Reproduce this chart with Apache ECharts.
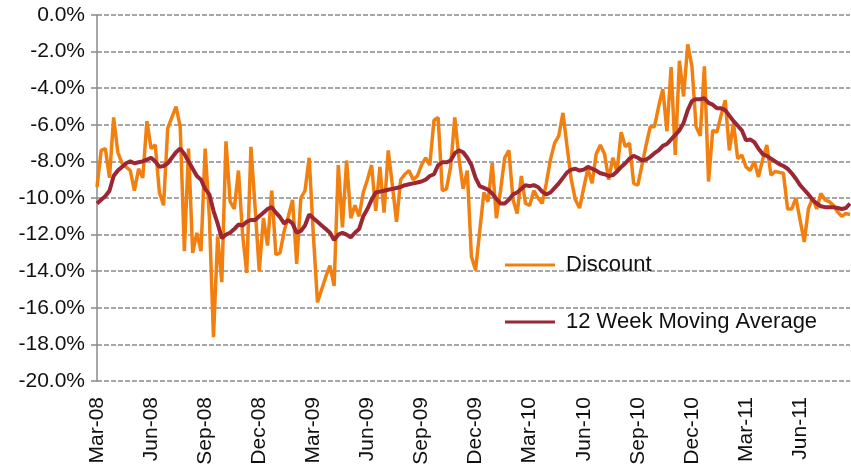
<!DOCTYPE html>
<html>
<head>
<meta charset="utf-8">
<script src="https://cdn.jsdelivr.net/npm/echarts@6/dist/echarts.min.js"></script>
<style>
html,body{margin:0;padding:0;background:#fff;}
#chart{width:851px;height:467px;}
</style>
</head>
<body>
<div id="chart"></div>
<script>
const tickLabels = ['Mar-08','Jun-08','Sep-08','Dec-08','Mar-09','Jun-09','Sep-09','Dec-09','Mar-10','Jun-10','Sep-10','Dec-10','Mar-11','Jun-11'];

const discount = [
-9.4,-7.4,-7.3,-8.9,-5.6,-7.5,-8.1,-8.3,-8.5,-9.6,
-8.4,-8.9,-5.8,-7.3,-7.1,-9.7,-10.4,-6.2,-5.6,-5.0,
-6.1,-12.9,-7.3,-13.0,-11.9,-12.9,-7.3,-11.0,-17.6,-12.1,
-14.6,-6.9,-10.2,-10.6,-8.5,-12.0,-14.1,-7.2,-10.5,-14.0,
-11.1,-12.6,-9.6,-13.1,-13.0,-11.8,-11.0,-10.1,-13.6,-10.0,
-9.6,-7.8,-12.0,-15.7,-15.0,-14.3,-13.7,-14.8,-8.2,-11.6,
-7.95,-11.1,-10.4,-11.0,-9.7,-9.0,-8.2,-10.7,-8.3,-10.8,
-7.4,-9.3,-11.3,-9.0,-8.7,-8.5,-9.0,-8.8,-8.2,-7.8,
-8.2,-5.75,-5.6,-9.6,-9.5,-8.3,-5.6,-7.8,-9.5,-8.5,
-13.2,-13.95,-11.8,-9.7,-10.2,-8.1,-11.1,-9.6,-7.8,-7.4,
-10.1,-10.85,-8.8,-10.3,-10.4,-9.6,-10.0,-10.3,-9.2,-7.9,
-7.0,-6.6,-5.35,-7.2,-9.0,-10.1,-10.55,-9.45,-8.4,-9.2,
-7.6,-7.1,-7.6,-9.0,-7.8,-8.55,-6.4,-7.2,-7.0,-9.2,
-9.3,-8.2,-7.1,-6.1,-6.1,-5.0,-4.05,-6.35,-2.85,-7.65,
-2.5,-4.45,-1.6,-2.8,-6.1,-6.6,-2.8,-9.1,-6.3,-6.4,
-5.5,-4.65,-7.4,-5.9,-7.85,-7.65,-8.3,-8.5,-8.0,-8.85,
-7.9,-7.1,-8.75,-8.55,-8.6,-8.65,-10.6,-10.6,-10.0,-11.2,
-12.4,-10.6,-10.0,-10.6,-9.75,-10.1,-10.2,-10.4,-10.75,-11.0,
-10.85,-10.9
];

const movingAverage = [
-10.3,-10.1,-9.9,-9.6,-8.8,-8.5,-8.3,-8.1,-8.0,-8.1,
-8.05,-8.0,-7.9,-7.8,-8.0,-8.3,-8.25,-8.1,-7.8,-7.5,
-7.3,-7.6,-8.0,-8.4,-8.8,-9.0,-9.5,-9.8,-10.7,-11.4,
-12.2,-12.0,-11.9,-11.7,-11.45,-11.5,-11.3,-11.2,-11.2,-11.0,
-10.8,-10.6,-10.5,-10.8,-11.05,-11.4,-11.2,-11.4,-11.9,-11.8,
-11.5,-10.9,-11.1,-11.3,-11.5,-11.7,-11.9,-12.3,-12.0,-11.9,
-12.0,-12.15,-11.9,-11.7,-11.0,-10.6,-10.1,-9.7,-9.65,-9.6,
-9.55,-9.5,-9.45,-9.4,-9.3,-9.25,-9.2,-9.15,-9.1,-9.0,
-8.8,-8.7,-8.2,-8.05,-8.05,-7.95,-7.55,-7.4,-7.5,-7.8,
-8.2,-8.9,-9.35,-9.45,-9.55,-9.75,-10.05,-10.3,-10.3,-10.1,
-9.8,-9.7,-9.5,-9.3,-9.35,-9.3,-9.4,-9.65,-9.8,-9.7,
-9.45,-9.2,-8.9,-8.6,-8.45,-8.4,-8.5,-8.45,-8.3,-8.4,
-8.5,-8.65,-8.7,-8.8,-8.75,-8.55,-8.3,-8.1,-7.85,-7.7,
-7.8,-7.95,-7.9,-7.75,-7.55,-7.4,-7.15,-7.05,-6.8,-6.55,
-6.3,-5.9,-5.2,-4.7,-4.6,-4.6,-4.55,-4.8,-4.9,-5.1,
-5.1,-5.2,-5.5,-5.8,-6.05,-6.3,-6.85,-6.8,-6.95,-7.3,
-7.6,-7.7,-7.85,-8.0,-8.15,-8.25,-8.4,-8.65,-8.95,-9.3,
-9.55,-9.8,-10.1,-10.3,-10.45,-10.5,-10.5,-10.5,-10.55,-10.6,
-10.55,-10.3
];

const weeks = discount.map((_, i) => 'W' + i);

const font = '"Liberation Sans", Arial, sans-serif';
const chart = echarts.init(document.getElementById('chart'), null, {renderer: 'canvas'});
chart.setOption({
  animation: false,
  backgroundColor: '#ffffff',
  grid: {left: 97, right: 1, top: 15, bottom: 86, containLabel: false, outerBoundsMode: 'none'},
  legend: [
    {data: ['Discount'], left: 505, top: 254, padding: 0, icon: 'rect', itemWidth: 50, itemHeight: 3,
     textStyle: {fontFamily: font, fontSize: 22, color: '#111', padding: [0,0,0,6]}},
    {data: ['12 Week Moving Average'], left: 505, top: 311, padding: 0, icon: 'rect', itemWidth: 50, itemHeight: 3,
     textStyle: {fontFamily: font, fontSize: 22, color: '#111', padding: [0,0,0,6]}}
  ],
  xAxis: {
    type: 'category', data: weeks, boundaryGap: false,
    axisLine: {show: false}, axisTick: {show: false},
    axisLabel: {
      interval: 12, rotate: 90, margin: 16, fontFamily: font, fontSize: 21, color: '#111',
      formatter: (v, idx) => (idx % 13 === 0 ? (tickLabels[idx / 13] || '') : '')
    },
    splitLine: {show: false}
  },
  yAxis: {
    type: 'value', min: -20, max: 0, interval: 2,
    axisLine: {show: true, lineStyle: {color: '#8a8a8a', width: 1.5}},
    axisTick: {show: true, length: 6, lineStyle: {color: '#8a8a8a', width: 1.5}},
    axisLabel: {fontFamily: font, fontSize: 21, color: '#111', margin: 12,
      formatter: v => (v === 0 ? '0.0%' : v.toFixed(1) + '%')},
    splitLine: {show: true, lineStyle: {color: '#8a8a8a', width: 1.5, type: [5, 2]}}
  },
  series: [
    {name: 'Discount', type: 'line', data: discount, showSymbol: false, symbol: 'none',
     lineStyle: {color: '#F28010', width: 3.5}, itemStyle: {color: '#F28010'}, z: 2},
    {name: '12 Week Moving Average', type: 'line', data: movingAverage, showSymbol: false, symbol: 'none',
     lineStyle: {color: '#9B2634', width: 4}, itemStyle: {color: '#9B2634'}, z: 3}
  ]
});
</script>
</body>
</html>
